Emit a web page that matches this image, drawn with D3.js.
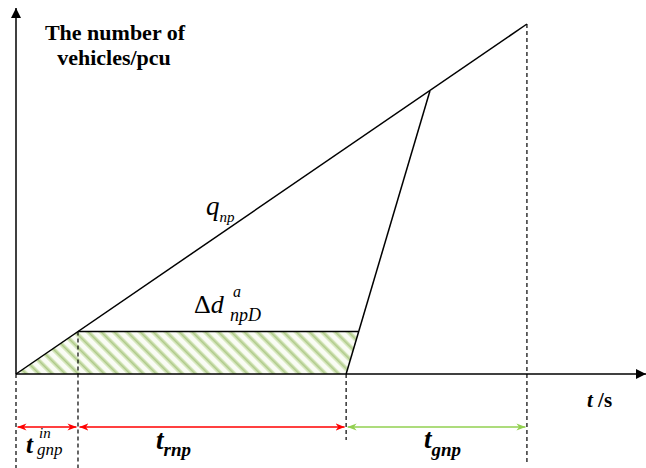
<!DOCTYPE html>
<html>
<head>
<meta charset="utf-8">
<script src="https://cdn.jsdelivr.net/npm/d3@7"></script>
<style>
  html, body { margin: 0; padding: 0; background: #fff; }
  svg { display: block; }
</style>
</head>
<body>
<svg id="chart" width="646" height="468"></svg>
<script>
// Time points (s) and cumulative vehicle counts (pcu) of the queueing diagram
const timeMarks = [0, 9.84, 52.4, 81.1];            // start, end of green-in, end of red, end of green
const arrivalCurve = [[0, 0], [81.1, 350]];          // q_np cumulative arrivals
const dischargeCurve = [[52.4, 0], [65.7, 283]];     // queue discharge after red ends
const queueTop = [[9.84, 42.6], [54.3, 42.6]];       // Δd top edge
const delayArea = [[0, 0], [9.84, 42.6], [54.3, 42.6], [52.4, 0]];
const guideTops = [0, 42.6, 0, 350];                 // where each dashed guide starts
const guideBottoms = [-94, -94, -66, -88];           // how far down each guide runs
const spans = [
  { from: 0, to: 9.84, color: "#ff0000" },
  { from: 9.84, to: 52.4, color: "#ff0000" },
  { from: 52.4, to: 81.1, color: "#92d050" }
];

const FONT = "Liberation Serif";
const svg = d3.select("#chart");
const x = d3.scaleLinear().domain([0, 100]).range([16, 646]);
const y = d3.scaleLinear().domain([0, 366]).range([374, 8]);
const line = d3.line().x(d => x(d[0])).y(d => y(d[1]));

// hatch pattern for the delay area
const defs = svg.append("defs");
const pat = defs.append("pattern")
  .attr("id", "hatch").attr("patternUnits", "userSpaceOnUse")
  .attr("width", 9.2).attr("height", 9.2)
  .attr("patternTransform", "rotate(-45)");
pat.append("rect").attr("width", 9.2).attr("height", 9.2).attr("fill", "#fafcf5");
pat.append("line").attr("x1", 2.5).attr("x2", 2.5).attr("y1", 0).attr("y2", 9.2)
  .attr("stroke", "#d3e5b8").attr("stroke-width", 4.5);
pat.append("line").attr("x1", 2.5).attr("x2", 2.5).attr("y1", 0).attr("y2", 9.2)
  .attr("stroke", "#afca8a").attr("stroke-width", 1.5);

const markerDefs = [["arrRed", "#ff0000"], ["arrGreen", "#92d050"]];
markerDefs.forEach(([id, c]) => {
  defs.append("marker").attr("id", id).attr("viewBox", "0 0 10 10")
    .attr("refX", 10).attr("refY", 5).attr("markerWidth", 9).attr("markerHeight", 9)
    .attr("markerUnits", "userSpaceOnUse").attr("orient", "auto-start-reverse")
    .append("path").attr("d", "M0,1 L10,5 L0,9 L3,5 Z").attr("fill", c);
});
defs.append("marker").attr("id", "axArr").attr("viewBox", "0 0 10 10")
  .attr("refX", 10).attr("refY", 5).attr("markerWidth", 10).attr("markerHeight", 10)
  .attr("markerUnits", "userSpaceOnUse").attr("orient", "auto")
  .append("path").attr("d", "M0,0 L10,5 L0,10 Z").attr("fill", "#000");

// shaded delay region
svg.append("path").attr("d", line(delayArea) + "Z").attr("fill", "url(#hatch)");

// dashed guides
svg.selectAll(".guide").data(timeMarks).enter().append("line")
  .attr("x1", d => x(d)).attr("x2", d => x(d))
  .attr("y1", (d, i) => y(guideTops[i])).attr("y2", (d, i) => y(guideBottoms[i]))
  .attr("stroke", "#000").attr("stroke-width", 1.2).attr("stroke-dasharray", "4,3");

// axes
svg.append("line").attr("x1", x(0)).attr("y1", y(0)).attr("x2", x(0)).attr("y2", y(366))
  .attr("stroke", "#000").attr("stroke-width", 1.5).attr("marker-end", "url(#axArr)");
svg.append("line").attr("x1", x(0)).attr("y1", y(0)).attr("x2", x(100)).attr("y2", y(0))
  .attr("stroke", "#000").attr("stroke-width", 1.5).attr("marker-end", "url(#axArr)");

// curves
[arrivalCurve, dischargeCurve, queueTop].forEach(c => {
  svg.append("path").attr("d", line(c)).attr("fill", "none")
    .attr("stroke", "#000").attr("stroke-width", 1.5);
});

// interval arrows
const arrowY = 427;
svg.selectAll(".span").data(spans).enter().append("line")
  .attr("x1", d => x(d.from) + 1.5).attr("x2", d => x(d.to) - 1.5)
  .attr("y1", arrowY).attr("y2", arrowY)
  .attr("stroke", d => d.color).attr("stroke-width", 1.3)
  .attr("marker-start", d => d.color === "#ff0000" ? "url(#arrRed)" : "url(#arrGreen)")
  .attr("marker-end", d => d.color === "#ff0000" ? "url(#arrRed)" : "url(#arrGreen)");

// labels
function label(px, py, size, opts = {}) {
  return svg.append("text").attr("x", px).attr("y", py)
    .attr("font-family", FONT).attr("font-size", size)
    .attr("font-weight", opts.bold ? "bold" : "normal")
    .attr("font-style", opts.italic ? "italic" : "normal")
    .attr("fill", "#000");
}

const title = label(115, 40, 22, { bold: true }).attr("text-anchor", "middle");
title.append("tspan").attr("x", 115).attr("y", 40).text("The number of");
title.append("tspan").attr("x", 114).attr("y", 65).text("vehicles/pcu");

const q = label(206, 215, 27, { italic: true });
q.append("tspan").text("q");
q.append("tspan").attr("font-size", 15).attr("dy", 7).text("np");

const dd = label(194, 313, 26);
dd.append("tspan").text("Δ");
dd.append("tspan").attr("font-style", "italic").text("d");
label(233, 297, 16, { italic: true }).text("a");
label(230, 321, 18, { italic: true }).text("npD");

const ts = label(587, 407, 21, { bold: true });
ts.append("tspan").attr("font-style", "italic").text("t");
ts.append("tspan").text(" /s");

label(26, 453, 25, { bold: true, italic: true }).text("t");
label(39, 438, 15, { italic: true }).text("in");
label(37, 455, 17, { italic: true }).text("gnp");

const tr = label(156, 449, 27, { bold: true, italic: true });
tr.append("tspan").text("t");
tr.append("tspan").attr("font-size", 19).attr("dy", 7).text("rnp");

const tg = label(424, 448, 27, { bold: true, italic: true });
tg.append("tspan").text("t");
tg.append("tspan").attr("font-size", 19).attr("dy", 8).text("gnp");
</script>
</body>
</html>
